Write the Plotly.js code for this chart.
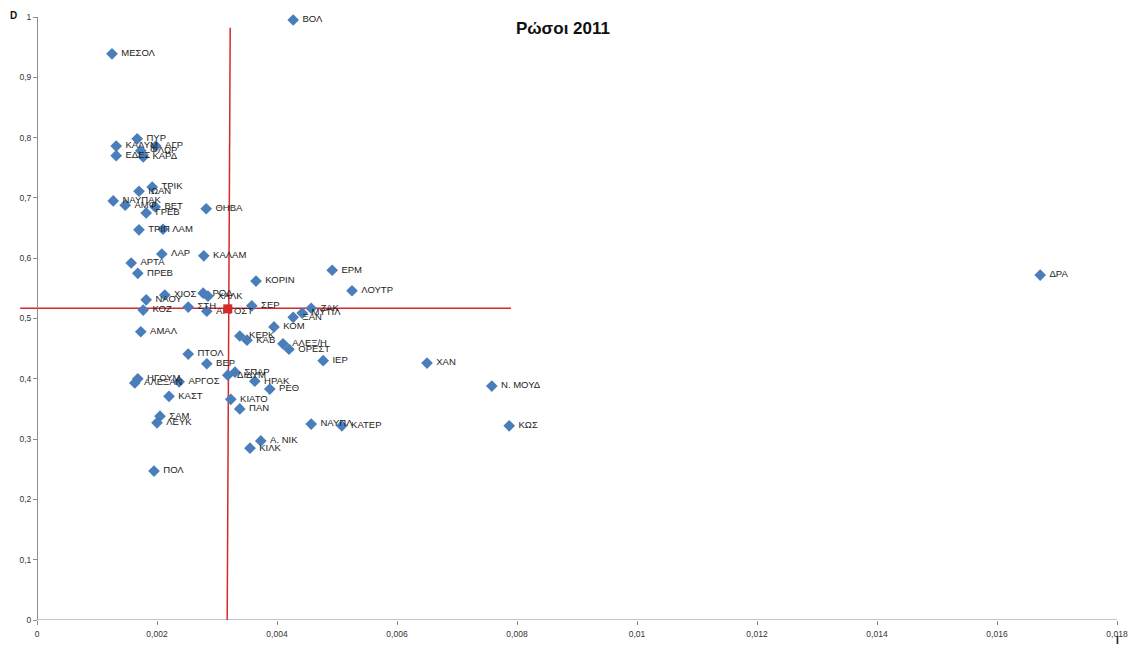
<!DOCTYPE html>
<html>
<head>
<meta charset="utf-8">
<script src="https://cdn.plot.ly/plotly-3.0.1.min.js"></script>
<style>
html,body{margin:0;padding:0;background:#fff;}
#chart{width:1135px;height:648px;}
</style>
</head>
<body>
<div id="chart"></div>
<script>
// Point labels (towns)
const towns = ["ΒΟΛ","ΜΕΣΟΛ","ΠΥΡ","ΚΑΛΥΜ","ΑΓΡ","ΕΔΕΣ","ΦΛΩΡ","ΚΑΡΔ","ΤΡΙΚ","ΙΩΑΝ",
  "ΝΑΥΠΑΚ","ΑΜΦ","ΒΕΤ","ΓΡΕΒ","ΘΗΒΑ","ΤΡΙΠ","ΛΑΜ","ΛΑΡ","ΚΑΛΑΜ","ΑΡΤΑ",
  "ΠΡΕΒ","ΚΟΡΙΝ","ΕΡΜ","ΛΟΥΤΡ","ΔΡΑ","ΧΙΟΣ","ΡΟΔ","ΧΑΛΚ","ΝΑΟΥ","ΚΟΖ",
  "ΣΤΗ","ΑΡΓΟΣΤ","ΣΕΡ","ΞΑΝ","ΜΥΤΙΛ","ΖΑΚ","ΑΜΑΛ","ΚΟΜ","ΚΕΡΚ","ΚΑΒ",
  "ΑΛΕΞ/Η","ΟΡΕΣΤ","ΙΕΡ","ΧΑΝ","Ν. ΜΟΥΔ","ΝΑΥΠΛ","ΚΑΤΕΡ","ΚΩΣ","ΠΤΟΛ","ΒΕΡ",
  "ΔΙΔΥΜ","ΣΠΑΡ","ΗΡΑΚ","ΡΕΘ","ΚΙΑΤΟ","ΠΑΝ","Α. ΝΙΚ","ΚΙΛΚ","ΠΟΛ","ΣΑΜ",
  "ΛΕΥΚ","ΚΑΣΤ","ΗΓΟΥΜ","ΑΛΕΞΑΝ","ΑΡΓΟΣ"];
// Index I (x)
const valuesI = [0.00427,0.00125,0.00167,0.00132,0.00198,0.00132,0.00173,0.00177,0.00192,0.00170,
  0.00127,0.00147,0.00197,0.00182,0.00282,0.00170,0.00210,0.00208,0.00278,0.00157,
  0.00168,0.00365,0.00492,0.00525,0.01672,0.00213,0.00277,0.00285,0.00182,0.00177,
  0.00252,0.00283,0.00358,0.00427,0.00442,0.00457,0.00173,0.00395,0.00338,0.00350,
  0.00410,0.00420,0.00477,0.00650,0.00758,0.00457,0.00508,0.00787,0.00252,0.00283,
  0.00318,0.00330,0.00363,0.00388,0.00323,0.00338,0.00373,0.00355,0.00195,0.00205,
  0.00200,0.00220,0.00168,0.00163,0.00237];
// Index D (y)
const valuesD = [0.995,0.939,0.798,0.786,0.786,0.770,0.778,0.768,0.718,0.711,
  0.695,0.688,0.685,0.675,0.682,0.647,0.648,0.607,0.604,0.592,
  0.575,0.562,0.580,0.546,0.572,0.539,0.542,0.537,0.531,0.514,
  0.519,0.512,0.521,0.502,0.509,0.517,0.478,0.486,0.471,0.464,
  0.458,0.449,0.430,0.426,0.388,0.325,0.322,0.322,0.441,0.425,
  0.406,0.411,0.396,0.383,0.366,0.350,0.297,0.285,0.247,0.338,
  0.327,0.371,0.400,0.393,0.395];
// Mean point and mean lines
const meanI = [0.00318];
const meanD = [0.516];
const vLineI = [0.00317, 0.00322];
const vLineD = [0, 0.982];
const hLineI = [-0.00028, 0.0079];
const hLineD = [0.517, 0.517];
// Tick values
const xTicks = [0,0.002,0.004,0.006,0.008,0.01,0.012,0.014,0.016,0.018];
const yTicks = [0,0.1,0.2,0.3,0.4,0.5,0.6,0.7,0.8,0.9,1];

const xMin = -0.0003, xMax = 0.018;
const red = '#d42a2a';
const axisGrey = '#8c8c8c';
const lblFont = {family:'Liberation Sans, Arial, sans-serif', size:9.5, color:'#222'};

const traces = [
  {x:hLineI, y:hLineD, mode:'lines', line:{color:red, width:1.5}, hoverinfo:'skip', showlegend:false},
  {x:vLineI, y:vLineD, mode:'lines', line:{color:red, width:1.5}, hoverinfo:'skip', showlegend:false},
  {x:valuesI, y:valuesD, text:towns, texttemplate:'\u00a0%{text}', mode:'markers+text', textposition:'middle right',
   textfont:lblFont, cliponaxis:false,
   marker:{symbol:'diamond', size:9, color:'#4a7ebb'}, showlegend:false},
  {x:meanI, y:meanD, mode:'markers', marker:{symbol:'square', size:9, color:red}, showlegend:false}
];

const layout = {
  width:1135, height:648,
  margin:{l:19, r:18, t:17, b:28, pad:0},
  paper_bgcolor:'#fff', plot_bgcolor:'#fff',
  separators:', ',
  showlegend:false,
  font:{family:'Liberation Sans, Arial, sans-serif', size:9, color:'#222'},
  title:{text:'<b>Ρώσοι 2011</b>', x:0.496, xanchor:'center', y:0.957, yanchor:'middle', yref:'container',
         font:{family:'Liberation Sans, Arial, sans-serif', size:17, color:'#111'}},
  xaxis:{range:[xMin,xMax], tickvals:xTicks, ticks:'outside', ticklen:4, tickcolor:axisGrey,
         showline:false, showgrid:false, zeroline:false, tickfont:{size:8.5, color:'#333'}, ticklabelstandoff:2},
  yaxis:{range:[0,1], tickvals:yTicks, ticks:'outside', ticklen:4, tickcolor:axisGrey,
         showline:true, linecolor:axisGrey, linewidth:1, showgrid:false, zeroline:false,
         anchor:'free', position:(0 - xMin)/(xMax - xMin), tickfont:{size:8.5, color:'#333'}},
  shapes:[{type:'line', xref:'x', yref:'y', x0:0, x1:xMax, y0:0, y1:0, line:{color:axisGrey, width:1}, layer:'below'}],
  annotations:[
    {text:'<b>D</b>', xref:'paper', yref:'paper', x:0, y:1.0, xanchor:'center', yanchor:'middle', showarrow:false,
     font:{size:10, color:'#111'}, xshift:-6, yshift:2},
    {text:'<b>I</b>', xref:'paper', yref:'paper', x:1, y:0, xanchor:'center', yanchor:'bottom', showarrow:false,
     font:{size:10, color:'#111'}, yshift:-28}
  ]
};

Plotly.newPlot('chart', traces, layout, {displayModeBar:false, staticPlot:true});
</script>
</body>
</html>
